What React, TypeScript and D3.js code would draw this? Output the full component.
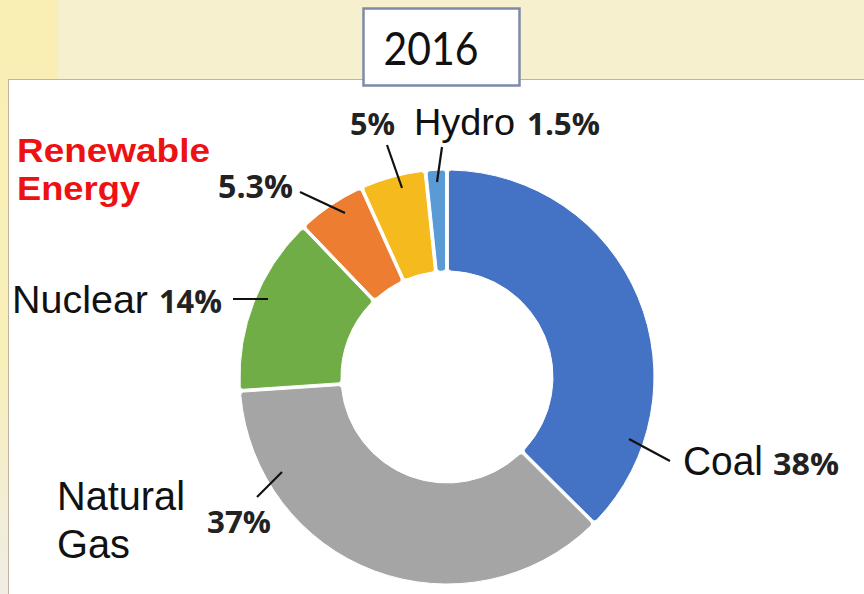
import React from "react";
import * as d3 from "d3";

// ---- data ----
const sources = ["Coal", "Natural Gas", "Nuclear", "Renewable Energy", "Other", "Hydro"];
const shares = [38, 37, 14, 5.3, 5, 1.5];
const shareLabels = ["38%", "37%", "14%", "5.3%", "5%", "1.5%"];
const colors = ["#4472C4", "#A5A5A5", "#70AD47", "#ED7D31", "#F5BA1E", "#5B9BD5"];
const year = "2016";

// ---- layout ----
const W = 864, H = 594;
const cx = 447, cy = 377;
const rOuter = 207, rInner = 106;

// name label layout: [text, x, y, size, length]
const nameLabels: [string, number, number, number, number][] = [
  ["Coal", 683, 475, 40, 80],
  ["Natural", 57, 510, 41, 128],
  ["Gas", 57, 558, 41, 73],
  ["Nuclear", 12, 313, 39, 136],
  ["Hydro", 414, 135, 36, 101],
];
// percent label layout per slice index: [x, y, length, size]
const pctLayout: [number, number, number, number][] = [
  [773, 475, 66, 31],
  [207, 533, 64, 31],
  [159, 313, 63, 32],
  [218, 198, 75, 32],
  [350, 135, 45, 30],
  [527, 135, 73, 30],
];
// leader lines per slice index: [x1,y1,x2,y2]
const leaders: [number, number, number, number][] = [
  [629, 439, 670, 461],
  [282, 472, 257, 497],
  [233, 299, 268, 299],
  [300, 192, 345, 213],
  [387, 145, 402, 188],
  [442, 147, 437, 182],
];

export default function App() {
  const pie = d3.pie<number>().sort(null).value((d) => d).startAngle(0).endAngle(2 * Math.PI).padAngle(0.012);
  const arcs = pie(shares);
  const arc = d3.arc<d3.PieArcDatum<number>>().innerRadius(rInner).outerRadius(rOuter).cornerRadius(3);

  return (
    <svg width={W} height={H} style={{ position: "absolute", left: 0, top: 0 }}>
      <defs>
        <linearGradient id="strip" x1="0" y1="0" x2="0" y2="1">
          <stop offset="0" stopColor="#F9EFB5" />
          <stop offset="0.6" stopColor="#F9EFBA" />
          <stop offset="1" stopColor="#EFEDE6" />
        </linearGradient>
      </defs>
      <rect x={0} y={0} width={W} height={H} fill="#F7F0CE" />
      <rect x={0} y={0} width={58} height={H} fill="url(#strip)" />
      <rect x={8.5} y={79.5} width={W} height={H} fill="#FFFFFF" stroke="#BDB59E" strokeWidth={1} />

      <g transform={`translate(${cx},${cy})`}>
        {arcs.map((a, i) => (
          <path key={sources[i]} d={arc(a) || ""} fill={colors[i]} stroke="#FFFFFF" strokeWidth={1} />
        ))}
      </g>

      {leaders.map((l, i) => (
        <line key={"l" + i} x1={l[0]} y1={l[1]} x2={l[2]} y2={l[3]} stroke="#111" strokeWidth={2.2} />
      ))}

      {nameLabels.map(([t, x, y, s, len]) => (
        <text key={t} x={x} y={y} fontFamily="'Liberation Sans', Arial, sans-serif" fontSize={s} fill="#111"
          textLength={len} lengthAdjust="spacingAndGlyphs">{t}</text>
      ))}

      {shareLabels.map((t, i) => (
        <text key={"p" + i} x={pctLayout[i][0]} y={pctLayout[i][1]} fontFamily="'Open Sans', sans-serif" fontWeight={700}
          fontSize={pctLayout[i][3]} fill="#222" textLength={pctLayout[i][2]} lengthAdjust="spacingAndGlyphs">{t}</text>
      ))}

      <text x={17} y={162} fontFamily="'Liberation Sans', Arial, sans-serif" fontWeight={700} fontSize={34} fill="#EE1111"
        textLength={193} lengthAdjust="spacingAndGlyphs">Renewable</text>
      <text x={17} y={200} fontFamily="'Liberation Sans', Arial, sans-serif" fontWeight={700} fontSize={34} fill="#EE1111"
        textLength={123} lengthAdjust="spacingAndGlyphs">Energy</text>

      <rect x={363.5} y={8.5} width={156} height={77} fill="#FFFFFF" stroke="#7F8AAA" strokeWidth={2.5} />
      <text x={431} y={65} textAnchor="middle" fontFamily="Lato, sans-serif" fontSize={46} fill="#111"
        textLength={95} lengthAdjust="spacingAndGlyphs">{year}</text>
    </svg>
  );
}
